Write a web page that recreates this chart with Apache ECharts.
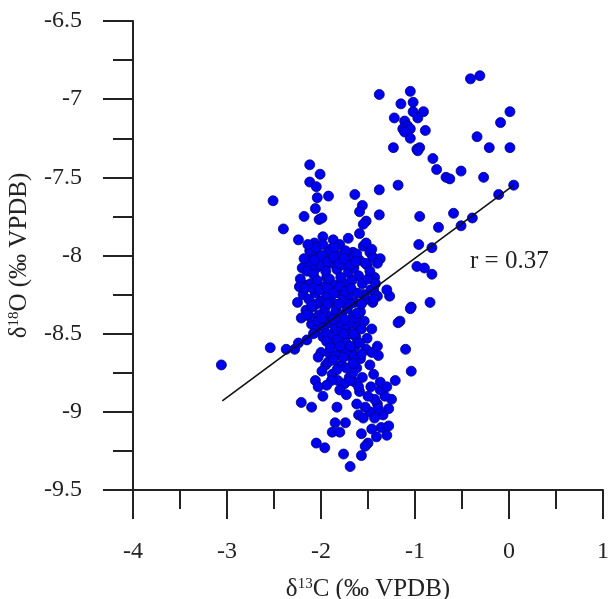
<!DOCTYPE html>
<html>
<head>
<meta charset="utf-8">
<script src="https://cdn.jsdelivr.net/npm/echarts@6/dist/echarts.min.js"></script>
<style>html,body{margin:0;padding:0;background:#fff;}#c{width:610px;height:599px;}</style>
</head>
<body>
<div id="c"></div>
<script>
var xTicks = [-4, -3, -2, -1, 0, 1];
var yTicks = [-9.5, -9, -8.5, -8, -7.5, -7, -6.5];
var upperRight = [[-1.38,-6.97],[-1.05,-6.95],[-1.15,-7.03],[-1.02,-7.02],[-1.02,-7.08],[-0.91,-7.08],[-0.97,-7.12],[-1.22,-7.12],[-1.11,-7.14],[-1.08,-7.17],[-1.13,-7.19],[-1.05,-7.19],[-1.11,-7.21],[-0.89,-7.20],[-1.05,-7.25],[-1.23,-7.31],[-0.98,-7.32],[-0.95,-7.31],[-0.97,-7.33],[-0.81,-7.38],[-0.77,-7.45],[-0.67,-7.50],[-0.63,-7.51],[-0.51,-7.46],[-0.41,-6.87],[-0.31,-6.85],[0.01,-7.08],[-0.09,-7.15],[-0.34,-7.24],[-0.21,-7.31],[0.01,-7.31],[-0.27,-7.50],[0.05,-7.55],[-0.11,-7.61],[-1.38,-7.58],[-1.18,-7.55]];
var rightMid = [[-0.95,-7.75],[-0.59,-7.73],[-0.39,-7.76],[-0.51,-7.81],[-0.75,-7.82],[-0.96,-7.93],[-0.82,-7.95],[-0.98,-8.07],[-0.90,-8.08],[-0.82,-8.12],[-0.84,-8.30],[-1.04,-8.33],[-1.16,-8.42],[-1.27,-8.26],[-1.10,-8.60],[-1.04,-8.74],[-1.21,-8.80],[-1.18,-8.43],[-1.05,-8.34],[-1.44,-8.22]];
var upperColumn = [[-2.12,-7.42],[-2.01,-7.48],[-2.12,-7.53],[-2.05,-7.56],[-2.04,-7.63],[-1.92,-7.62],[-2.51,-7.65],[-2.18,-7.75],[-2.06,-7.70],[-2.02,-7.77],[-1.99,-7.76],[-2.40,-7.83],[-2.24,-7.90],[-1.98,-7.88],[-2.07,-7.92],[-2.10,-7.99],[-2.01,-8.01],[-2.20,-8.08],[-2.12,-8.05],[-2.05,-8.08],[-2.15,-8.19],[-2.03,-8.20],[-1.94,-8.14],[-1.64,-7.61],[-1.56,-7.68],[-1.59,-7.72],[-1.38,-7.74],[-1.52,-7.78],[-1.55,-7.80],[-1.59,-7.86],[-1.71,-7.89],[-1.87,-7.90],[-1.80,-7.93],[-1.66,-7.98],[-1.55,-7.94],[-1.48,-7.98],[-1.45,-8.01],[-1.37,-8.02],[-1.59,-8.03],[-1.51,-8.06],[-1.43,-8.14],[-1.90,-7.96]];
var core = [[-2.18,-8.02],[-2.12,-7.97],[-2.05,-7.95],[-1.98,-7.93],[-1.92,-7.98],[-1.86,-7.95],[-1.80,-8.00],[-1.74,-7.97],[-1.68,-8.02],[-1.62,-7.99],[-2.15,-8.10],[-2.08,-8.12],[-2.00,-8.06],[-1.95,-8.10],[-1.89,-8.05],[-1.83,-8.09],[-1.77,-8.06],[-1.71,-8.11],[-1.65,-8.08],[-1.60,-8.13],[-2.22,-8.15],[-2.11,-8.18],[-2.04,-8.16],[-1.97,-8.20],[-1.91,-8.15],[-1.85,-8.19],[-1.79,-8.14],[-1.73,-8.18],[-1.67,-8.16],[-1.56,-8.18],[-2.19,-8.25],[-2.13,-8.28],[-2.06,-8.24],[-2.00,-8.29],[-1.94,-8.26],[-1.88,-8.30],[-1.82,-8.24],[-1.76,-8.28],[-1.70,-8.25],[-1.64,-8.30],[-2.16,-8.35],[-2.09,-8.33],[-2.02,-8.38],[-1.96,-8.34],[-1.90,-8.39],[-1.84,-8.35],[-1.78,-8.38],[-1.72,-8.34],[-1.66,-8.39],[-1.58,-8.36],[-2.10,-8.44],[-2.03,-8.42],[-1.97,-8.46],[-1.91,-8.43],[-1.85,-8.47],[-1.79,-8.44],[-1.73,-8.47],[-1.67,-8.43],[-1.61,-8.46],[-1.54,-8.42],[-2.25,-8.30],[-2.23,-8.20],[-1.52,-8.28],[-1.50,-8.15],[-1.47,-8.22],[-1.52,-7.92],[-1.46,-7.96],[-1.40,-8.05],[-1.53,-8.05],[-1.48,-8.10],[-1.42,-8.18],[-1.55,-8.25],[-1.45,-8.30],[-1.40,-8.26],[-1.98,-8.52],[-1.92,-8.62],[-1.86,-8.56],[-1.80,-8.62],[-1.74,-8.55],[-1.70,-8.64],[-1.64,-8.58],[-1.58,-8.66],[-1.52,-8.60],[-1.46,-8.62],[-1.40,-8.58],[-2.00,-8.62],[-1.95,-8.70],[-1.88,-8.76],[-1.78,-8.70],[-1.70,-8.78],[-1.62,-8.72],[-1.56,-8.78]];
var coreExtra = [[-2.14,-7.93],[-2.07,-8.03],[-1.99,-8.00],[-1.93,-8.04],[-1.87,-8.01],[-1.81,-8.05],[-1.75,-8.02],[-1.69,-8.06],[-1.63,-8.04],[-2.17,-8.21],[-2.09,-8.21],[-2.02,-8.22],[-1.93,-8.21],[-1.86,-8.24],[-1.80,-8.20],[-1.74,-8.23],[-1.68,-8.21],[-1.61,-8.24],[-2.21,-8.40],[-2.12,-8.39],[-2.05,-8.31],[-1.99,-8.40],[-1.93,-8.31],[-1.87,-8.41],[-1.81,-8.31],[-1.75,-8.41],[-1.69,-8.31],[-1.63,-8.40],[-1.57,-8.31],[-2.06,-8.48],[-1.94,-8.50],[-1.88,-8.52],[-1.82,-8.49],[-1.70,-8.50],[-1.63,-8.52],[-1.59,-8.56],[-1.84,-8.64],[-1.74,-8.61],[-1.65,-8.64],[-1.92,-8.68],[-1.82,-8.80],[-1.75,-8.82],[-1.64,-8.81],[-1.48,-8.70],[-1.44,-8.76],[-1.47,-8.84],[-1.40,-8.95],[-1.34,-9.02],[-1.48,-9.00],[-1.36,-9.10]];
var lower = [[-3.06,-8.70],[-2.54,-8.59],[-2.37,-8.60],[-2.28,-8.60],[-2.24,-8.56],[-2.15,-8.54],[-2.08,-8.50],[-2.03,-8.65],[-2.06,-8.80],[-1.99,-8.74],[-1.98,-8.90],[-2.21,-8.94],[-2.10,-8.97],[-2.05,-9.20],[-1.96,-9.23],[-1.76,-9.27],[-1.69,-9.35],[-1.57,-9.28],[-1.83,-8.97],[-1.88,-9.13],[-1.80,-9.13],[-1.74,-9.07],[-1.85,-9.07],[-1.57,-9.14],[-1.46,-9.11],[-1.50,-9.20],[-1.53,-9.22],[-1.41,-9.16],[-1.30,-9.15],[-1.28,-9.09],[-1.39,-8.98],[-1.28,-8.98],[-1.25,-8.92],[-1.32,-8.90],[-1.37,-8.86],[-1.43,-8.92],[-1.53,-8.97],[-1.50,-8.90],[-1.59,-8.87],[-1.62,-8.95],[-1.60,-9.02],[-1.55,-9.04],[-1.43,-9.04],[-1.37,-8.81],[-1.30,-8.84],[-1.60,-8.84],[-1.69,-8.80],[-1.66,-8.75],[-1.73,-8.72],[-1.83,-8.73],[-1.89,-8.80],[-1.94,-8.83],[-1.80,-8.86],[-1.73,-8.89],[-1.87,-8.67],[-1.76,-8.65],[-1.66,-8.69],[-1.57,-8.63],[-1.51,-8.53],[-1.46,-8.47],[-1.39,-8.64],[-1.57,-8.47],[-1.66,-8.50],[-1.76,-8.50],[-1.83,-8.54],[-1.94,-8.55],[-1.90,-8.59],[-1.80,-8.58],[-1.69,-8.58],[-1.62,-8.37],[-1.44,-8.28],[-1.30,-8.22],[-2.15,-8.38],[-2.10,-8.32],[-2.03,-8.84]];
var regression = [[-3.05,-8.93],[0.05,-7.55]];
var rLabel = 'r = 0.37';

var points = [].concat(upperRight, rightMid, upperColumn, core, coreExtra, lower);
var FONT = 'Liberation Serif';
var TXT = '#222';

var chart = echarts.init(document.getElementById('c'), null, {renderer: 'canvas'});
chart.setOption({
  animation: false,
  backgroundColor: '#fff',
  grid: {left: 133, right: 7, top: 21, bottom: 109, containLabel: false, outerBoundsMode: 'none'},
  xAxis: {
    type: 'value', min: xTicks[0], max: xTicks[xTicks.length - 1], interval: 1,
    axisLine: {show: true, onZero: false, lineStyle: {color: '#222', width: 2}},
    axisTick: {show: true, inside: false, length: 29, lineStyle: {color: '#222', width: 2}},
    minorTick: {show: true, splitNumber: 2, length: 19, lineStyle: {color: '#222', width: 2}},
    splitLine: {show: false},
    axisLabel: {margin: 50, fontFamily: FONT, fontSize: 24, color: TXT, showMinLabel: true, showMaxLabel: true},
    name: '{d|δ}{s|13}{d|C (‰ VPDB)}',
    nameLocation: 'middle', nameGap: 87,
    nameTextStyle: {fontFamily: FONT, fontSize: 25, color: TXT,
      rich: {d: {fontFamily: FONT, fontSize: 25, color: TXT}, s: {fontFamily: FONT, fontSize: 15, color: TXT, verticalAlign: 'top'}}}
  },
  yAxis: {
    type: 'value', min: yTicks[0], max: yTicks[yTicks.length - 1], interval: 0.5,
    axisLine: {show: true, onZero: false, lineStyle: {color: '#222', width: 2}},
    axisTick: {show: true, inside: false, length: 30, lineStyle: {color: '#222', width: 2}},
    minorTick: {show: true, splitNumber: 2, length: 20, lineStyle: {color: '#222', width: 2}},
    splitLine: {show: false},
    axisLabel: {margin: 51, fontFamily: FONT, fontSize: 24, color: TXT, showMinLabel: true, showMaxLabel: true},
    name: '{d|δ}{s|18}{d|O (‰ VPDB)}',
    nameLocation: 'middle', nameGap: 101, nameRotate: 90,
    nameTextStyle: {fontFamily: FONT, fontSize: 25, color: TXT,
      rich: {d: {fontFamily: FONT, fontSize: 25, color: TXT}, s: {fontFamily: FONT, fontSize: 15, color: TXT, verticalAlign: 'top'}}}
  },
  series: [
    {
      type: 'scatter', data: points, symbol: 'circle', symbolSize: 10,
      itemStyle: {color: '#0000f0', borderColor: '#00007a', borderWidth: 0.8, opacity: 1},
      z: 2
    },
    {
      type: 'line', data: regression, symbol: 'none', silent: true,
      lineStyle: {color: '#111', width: 1.6}, z: 3
    }
  ],
  graphic: [{
    type: 'text', left: 470, top: 249,
    style: {text: rLabel, fontFamily: FONT, fontSize: 25, fill: TXT}
  }]
});
</script>
</body>
</html>
